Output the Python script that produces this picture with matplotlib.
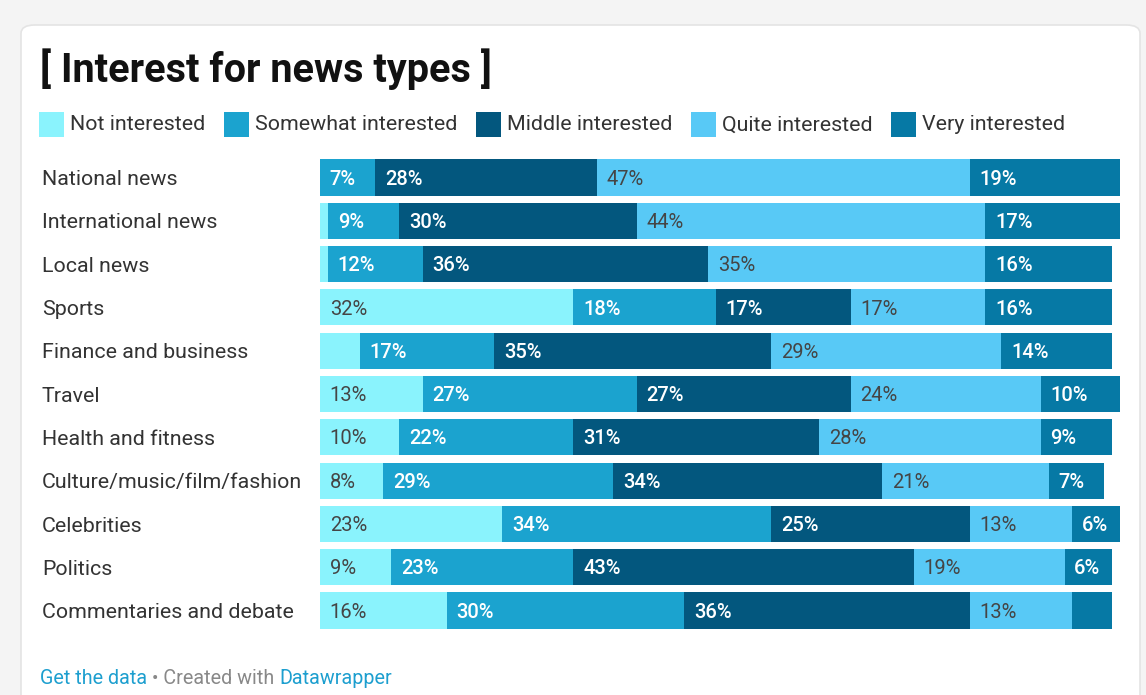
import matplotlib
matplotlib.use("Agg")
import matplotlib.pyplot as plt
from matplotlib.patches import FancyBboxPatch, Rectangle

plt.rcParams['font.family'] = ['Roboto', 'DejaVu Sans']

categories = [
    "National news", "International news", "Local news", "Sports",
    "Finance and business", "Travel", "Health and fitness",
    "Culture/music/film/fashion", "Celebrities", "Politics",
    "Commentaries and debate",
]
series_names = ["Not interested", "Somewhat interested", "Middle interested",
                "Quite interested", "Very interested"]
not_interested = [0, 1, 1, 32, 5, 13, 10, 8, 23, 9, 16]
somewhat = [7, 9, 12, 18, 17, 27, 22, 29, 34, 23, 30]
middle = [28, 30, 36, 17, 35, 27, 31, 34, 25, 43, 36]
quite = [47, 44, 35, 17, 29, 24, 28, 21, 13, 19, 13]
very = [19, 17, 16, 16, 14, 10, 9, 7, 6, 6, 5]

series = [not_interested, somewhat, middle, quite, very]
colors = ["#8af3fd", "#1ba3cf", "#03577e", "#58c9f6", "#0679a5"]
label_colors = ["#454545", "white", "white", "#454545", "white"]
label_weights = ["normal", "medium", "medium", "normal", "medium"]

W, H = 1146, 695
CAP = 0.711  # Roboto cap height / em

fig = plt.figure(figsize=(W / 100, H / 100), dpi=100)
fig.patch.set_facecolor("#f4f4f4")


def fy(px):
    return 1 - px / H


# white card behind everything
card = FancyBboxPatch((21 / W, -0.05), (1140 - 21) / W, (695 - 25) / H + 0.05,
                      boxstyle="round,pad=0,rounding_size=0.012",
                      transform=fig.transFigure, facecolor="white",
                      edgecolor="#e4e4e4", linewidth=1.2, zorder=-5)
fig.patches.append(card)

# title
fig.text(40 / W, fy(82), "[ Interest for news types ]", fontsize=28.5,
         fontweight="bold", color="#111111", va="baseline", ha="left")

# legend
fig.canvas.draw()
renderer = fig.canvas.get_renderer()
x = 39
for name, col in zip(series_names, colors):
    fig.patches.append(Rectangle((x / W, fy(137)), 25 / W, 25 / H,
                                 transform=fig.transFigure, facecolor=col,
                                 edgecolor="none"))
    t = fig.text((x + 31) / W, fy(130.5), name, fontsize=15.4,
                 color="#333333", va="baseline", ha="left")
    bb = t.get_window_extent(renderer=renderer)
    x = x + 31 + bb.width + 18.5

# bars
pitch = 43.3
first_c = 177.5
top_px = first_c - pitch / 2
bot_px = first_c + pitch * (len(categories) - 1) + pitch / 2
ax = fig.add_axes([320 / W, fy(bot_px), 800 / W, (bot_px - top_px) / H])
ax.set_zorder(2)
ax.set_xlim(0, 101)
ax.set_ylim(len(categories) - 0.5, -0.5)
ax.axis("off")

val_fs = 14.5
ypos = list(range(len(categories)))
left = [0] * len(categories)
for vals, col, lc, lw in zip(series, colors, label_colors, label_weights):
    ax.barh(ypos, vals, left=left, height=0.835, color=col, edgecolor="none")
    for i, v in enumerate(vals):
        if v >= 6:
            ax.annotate(f"{v}%", (left[i], i),
                        xytext=(7, -val_fs * CAP / 2),
                        textcoords="offset points", va="baseline", ha="left",
                        fontsize=val_fs, color=lc, fontweight=lw)
    left = [a + b for a, b in zip(left, vals)]

lab_fs = 15.4
for i, c in enumerate(categories):
    base = first_c + pitch * i + lab_fs * CAP / 2 * 100 / 72
    fig.text(42 / W, fy(base), c, fontsize=lab_fs,
             color="#333333", va="baseline", ha="left")

# footer
fx = 40
parts = [("Get the data", "#1d9fcf"), (" • Created with ", "#888888"),
         ("Datawrapper", "#1d9fcf")]
for txt, col in parts:
    t = fig.text(fx / W, fy(684), txt, fontsize=14.2, color=col,
                 va="baseline", ha="left")
    fx += t.get_window_extent(renderer=renderer).width

fig.savefig("out.png", dpi=100, facecolor=fig.get_facecolor())
